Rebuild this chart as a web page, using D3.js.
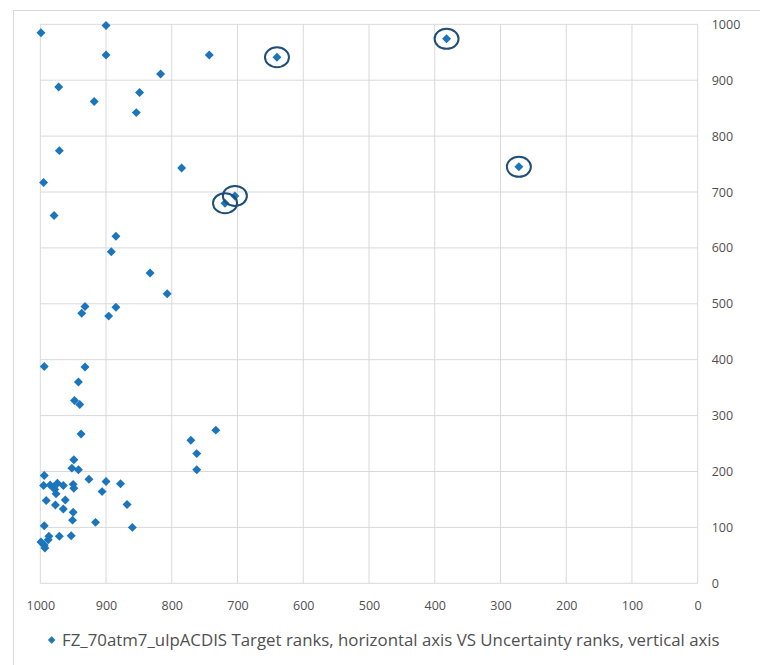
<!DOCTYPE html>
<html>
<head>
<meta charset="utf-8">
<script src="https://d3js.org/d3.v7.min.js"></script>
<style>
  body { margin: 0; background: #fff; }
  text { font-family: "Open Sans", sans-serif; fill: #595959; }
</style>
</head>
<body>
<div id="chart"></div>
<script>

// target rank (horizontal) and uncertainty rank (vertical)
var targetRank = [999, 900, 900, 743, 817, 972, 918, 849, 854, 971, 785, 995,
                  979, 885, 892, 833, 807, 932, 937, 885, 896, 994, 932, 942,
                  948, 940, 938, 733, 771, 762, 762,
                  949, 952, 942, 994, 926, 900, 878, 995, 985, 980, 974, 978,
                  965, 950, 949, 906, 976, 991, 962, 977, 965, 868, 950, 951,
                  916, 860, 994, 987, 971, 953, 999, 994, 993, 988,
                  640, 382, 272, 704, 719];
var uncertRank = [985, 998, 945, 945, 911, 888, 862, 878, 842, 774, 743, 717,
                  658, 621, 593, 555, 518, 495, 483, 494, 478, 388, 387, 360,
                  327, 320, 267, 274, 256, 232, 203,
                  221, 206, 203, 193, 186, 182, 178, 175, 176, 172, 179, 168,
                  175, 177, 170, 164, 160, 148, 149, 140, 133, 141, 127, 113,
                  109, 100, 103, 84, 84, 85, 74, 68, 63, 78,
                  941, 974, 745, 693, 680];

// the points someone ringed by hand
var ringTarget = [640, 382, 272, 704, 719];
var ringUncert = [941, 974, 745, 693, 680];

var ticks = [0, 100, 200, 300, 400, 500, 600, 700, 800, 900, 1000];
var legendLabel = "FZ_70atm7_ulpACDIS Target ranks, horizontal axis VS Uncertainty ranks, vertical axis";

var W = 760, H = 665;
var blue = "#1a75bc", navy = "#1f4e79", grid = "#d9d9d9";

var svg = d3.select("#chart").append("svg")
    .attr("width", W)
    .attr("height", H);

// chart area frame (runs off the right and bottom edge)
svg.append("rect")
    .attr("x", 13.5).attr("y", 10.5)
    .attr("width", 800).attr("height", 700)
    .style("fill", "none")
    .style("stroke", grid);

var x = d3.scaleLinear().domain([1000, 0]).range([40.3, 697.7]);
var y = d3.scaleLinear().domain([0, 1000]).range([583.3, 24.3]);

// gridlines
svg.append("g").selectAll("line")
    .data(ticks).enter().append("line")
    .attr("x1", function(d){ return x(d); })
    .attr("x2", function(d){ return x(d); })
    .attr("y1", y(0)).attr("y2", y(1000))
    .style("stroke", grid);
svg.append("g").selectAll("line")
    .data(ticks).enter().append("line")
    .attr("y1", function(d){ return y(d); })
    .attr("y2", function(d){ return y(d); })
    .attr("x1", x(1000)).attr("x2", x(0))
    .style("stroke", grid);

// axes, labels only
var fmt = d3.format("d");
var xAxis = svg.append("g")
    .attr("transform", "translate(0," + y(0) + ")")
    .call(d3.axisBottom(x).tickValues(ticks).tickFormat(fmt).tickSize(0).tickPadding(18));
var yAxis = svg.append("g")
    .attr("transform", "translate(" + x(0) + ",0)")
    .call(d3.axisRight(y).tickValues(ticks).tickFormat(fmt).tickSize(0).tickPadding(14));
[xAxis, yAxis].forEach(function(a){
    a.select(".domain").remove();
    a.selectAll("text")
        .style("font-family", "'Open Sans', sans-serif")
        .style("font-size", "12.5px")
        .style("fill", "#505050");
});
yAxis.selectAll("text").attr("text-anchor", "start");

// markers
var diamond = d3.symbol().type(d3.symbolSquare).size(40);
svg.append("g").selectAll("path")
    .data(targetRank).enter().append("path")
    .attr("d", diamond)
    .attr("transform", function(d, i){
        return "translate(" + x(d) + "," + y(uncertRank[i]) + ") rotate(45)";
    })
    .style("fill", blue);

// rings
svg.append("g").selectAll("ellipse")
    .data(ringTarget).enter().append("ellipse")
    .attr("cx", function(d){ return x(d); })
    .attr("cy", function(d, i){ return y(ringUncert[i]); })
    .attr("rx", 12).attr("ry", 10)
    .style("fill", "none")
    .style("stroke", navy)
    .style("stroke-width", 2);

// legend
var lg = svg.append("g");
lg.append("path")
    .attr("d", d3.symbol().type(d3.symbolSquare).size(28))
    .attr("transform", "translate(51.7,640) rotate(45)")
    .style("fill", blue);
var lt = lg.append("text")
    .attr("x", 62).attr("y", 645.5)
    .style("font-size", "16px")
    .style("fill", "#505050")
    .text(legendLabel);
// size the legend so it spans the same width as the original
var len = lt.node().getComputedTextLength();
lt.style("font-size", (16 * 658 / len) + "px");

</script>
</body>
</html>
